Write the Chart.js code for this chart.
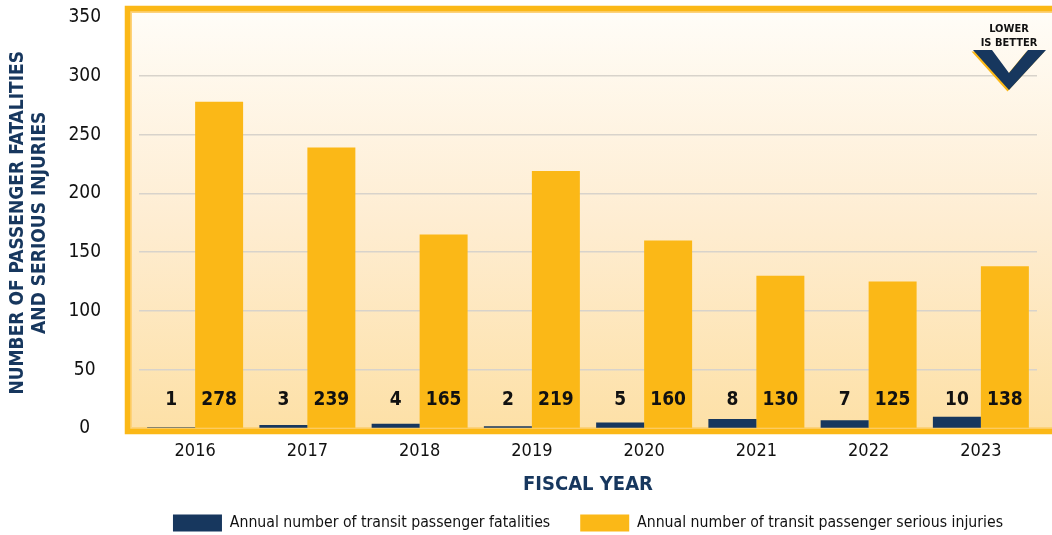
<!DOCTYPE html>
<html>
<head>
<meta charset="utf-8">
<script src="https://cdn.jsdelivr.net/npm/chart.js@4.4.1/dist/chart.umd.min.js"></script>
<style>
  html, body { margin: 0; padding: 0; background: #fff; }
  #wrap { width: 1052px; height: 535px; position: relative; }
</style>
</head>
<body>
<div id="wrap"><canvas id="chart"></canvas></div>
<script>
// data
const years = ['2016', '2017', '2018', '2019', '2020', '2021', '2022', '2023'];
const fatalities = [1, 3, 4, 2, 5, 8, 7, 10];
const injuries = [278, 239, 165, 219, 160, 130, 125, 138];
const yTicks = [0, 50, 100, 150, 200, 250, 300, 350];

const NAVY = '#17375e';
const GOLD = '#fbb817';
const FONT = "'DejaVu Sans Condensed', 'Liberation Sans Narrow', sans-serif";

Chart.defaults.font.family = FONT;
Chart.defaults.color = '#111';

// cream gradient + gold frame behind the plot
const framePlugin = {
    id: 'frame',
    beforeDraw(chart) {
        const { ctx, chartArea, width } = chart;
        const y0 = chart.scales.y.getPixelForValue(0);
        const left = chartArea.left - 11.5;
        const top = 8.5;
        const bottom = y0 + 3;
        const grad = ctx.createLinearGradient(0, top, 0, bottom);
        grad.addColorStop(0, '#fffdf8');
        grad.addColorStop(0.5, '#feedd2');
        grad.addColorStop(1, '#fde0a6');
        ctx.save();
        ctx.fillStyle = grad;
        ctx.fillRect(left, top, width - left, bottom - top);
        // thin light inner edge
        ctx.strokeStyle = '#fdd27a';
        ctx.lineWidth = 2;
        ctx.beginPath();
        ctx.moveTo(width + 5, top + 3.5);
        ctx.lineTo(left + 3.5, top + 3.5);
        ctx.lineTo(left + 3.5, bottom - 3.5);
        ctx.lineTo(width + 5, bottom - 3.5);
        ctx.stroke();
        ctx.strokeStyle = GOLD;
        ctx.lineWidth = 5.5;
        ctx.beginPath();
        ctx.moveTo(width + 5, top);
        ctx.lineTo(left, top);
        ctx.lineTo(left, bottom);
        ctx.lineTo(width + 5, bottom);
        ctx.stroke();
        ctx.restore();
    }
};

// value labels sitting near the bottom of every bar
const labelPlugin = {
    id: 'valueLabels',
    afterDatasetsDraw(chart) {
        const { ctx } = chart;
        const yPos = chart.scales.y.getPixelForValue(0) - 28;
        ctx.save();
        ctx.font = 'bold 19px ' + FONT;
        ctx.fillStyle = '#111';
        ctx.textAlign = 'center';
        ctx.textBaseline = 'middle';
        chart.data.datasets.forEach((ds, i) => {
            chart.getDatasetMeta(i).data.forEach((bar, j) => {
                ctx.fillText(ds.data[j], bar.x, yPos);
            });
        });
        ctx.restore();
    }
};

// "LOWER IS BETTER" chevron in the top right
const badgePlugin = {
    id: 'badge',
    afterDraw(chart) {
        const { ctx } = chart;
        const pts = [[973, 50], [992, 50], [1009, 73], [1028, 50], [1046, 50], [1009, 90]];
        const v = (dx, dy) => {
            ctx.beginPath();
            pts.forEach(([x, y], i) => i ? ctx.lineTo(x + dx, y + dy) : ctx.moveTo(x + dx, y + dy));
            ctx.closePath();
            ctx.fill();
        };
        ctx.save();
        ctx.fillStyle = GOLD;
        v(-1.5, 1.5);
        ctx.fillStyle = NAVY;
        v(0, 0);
        ctx.fillStyle = '#111';
        ctx.font = 'bold 11px ' + FONT;
        ctx.textAlign = 'center';
        ctx.textBaseline = 'middle';
        ctx.fillText('LOWER', 1009, 29);
        ctx.fillText('IS BETTER', 1009, 43);
        ctx.restore();
    }
};

const ctx = document.getElementById('chart').getContext('2d');
const chart = new Chart(ctx, {
    type: 'bar',
    data: {
        labels: years,
        datasets: [
            {
                label: 'Annual number of transit passenger fatalities',
                data: fatalities,
                backgroundColor: NAVY,
                categoryPercentage: 0.855,
                barPercentage: 1.0
            },
            {
                label: 'Annual number of transit passenger serious injuries',
                data: injuries,
                backgroundColor: GOLD,
                categoryPercentage: 0.855,
                barPercentage: 1.0
            }
        ]
    },
    options: {
        responsive: true,
        maintainAspectRatio: false,
        animation: false,
        layout: { padding: { top: 17, right: 15, left: 0, bottom: -6.5 } },
        scales: {
            x: {
                afterFit(scale) {
                    scale.height = 56;
                    scale.paddingLeft = 0;
                    scale.paddingRight = 0;
                },
                grid: { display: false, drawTicks: false },
                border: { display: false },
                ticks: { font: { size: 18 }, color: '#111', padding: 12 },
                title: {
                    display: true,
                    text: 'FISCAL YEAR',
                    color: NAVY,
                    font: { size: 20, weight: 'bold' },
                    padding: { top: 0, bottom: -12 }
                }
            },
            y: {
                min: 0,
                max: 350,
                afterBuildTicks(scale) {
                    scale.ticks = yTicks.map(v => ({ value: v }));
                },
                afterFit(scale) {
                    scale.width = 139;
                    scale.paddingTop = 0;
                    scale.paddingBottom = 0;
                },
                grid: {
                    drawTicks: false,
                    lineWidth: 1.5,
                    color: c => (c.tick.value === 0 || c.tick.value === 350) ? 'rgba(0,0,0,0)' : '#d8d3cb'
                },
                border: { display: false },
                ticks: { font: { size: 19 }, color: '#111', crossAlign: 'center', padding: 38 },
                title: {
                    display: true,
                    text: ['NUMBER OF PASSENGER FATALITIES', 'AND SERIOUS INJURIES'],
                    color: NAVY,
                    font: { size: 19, weight: 'bold', lineHeight: '22px' },
                    padding: { top: 7, bottom: 0 }
                }
            }
        },
        plugins: {
            legend: {
                position: 'bottom',
                fullSize: false,
                labels: {
                    boxWidth: 49,
                    boxHeight: 17,
                    padding: 30,
                    color: '#111',
                    font: { size: 15.7 }
                }
            },
            tooltip: { enabled: false }
        }
    },
    plugins: [framePlugin, labelPlugin, badgePlugin]
});
</script>
</body>
</html>
